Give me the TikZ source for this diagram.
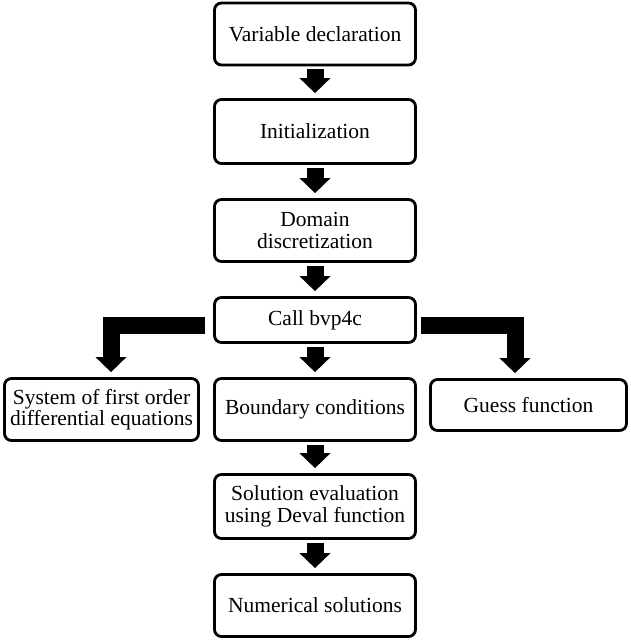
\documentclass[tikz,border=0pt]{standalone}
\usepackage{fontspec}
\setmainfont{Liberation Serif}
\usetikzlibrary{arrows.meta}
\tikzset{
  box/.style={draw=black, line width=2.8pt, rounded corners=7pt, align=center,
    font=\fontsize{21.5pt}{21.5pt}\selectfont, inner sep=2pt,
    minimum width=201pt, minimum height=62pt},
  fat/.style={line width=17pt, line join=miter,
    -{Triangle[width=31pt,length=15pt,line width=0pt]},
    shorten <=3pt, shorten >=5pt}
}
\begin{document}
\begin{tikzpicture}[x=1pt,y=-1pt]
\useasboundingbox (0,0) rectangle (630,640);
\node[box] (v1) at (315,34) {Variable declaration};
\node[box, minimum height=64pt] (v2) at (315,131.5) {Initialization};
\node[box] (v3) at (315,230.5) {Domain\\discretization};
\node[box, minimum height=45pt] (call) at (315,320) {Call bvp4c};
\node[box, minimum width=194pt] (sys) at (101.5,409.5) {System of first order\\differential equations};
\node[box] (bc) at (315,409.5) {Boundary conditions};
\node[box, minimum width=196pt, minimum height=51pt] (guess) at (528.5,405) {Guess function};
\node[box, minimum height=64pt] (sol) at (315,506.5) {Solution evaluation\\using Deval function};
\node[box] (num) at (315,605.5) {Numerical solutions};

\draw[fat] (v1) -- (v2);
\draw[fat] (v2) -- (v3);
\draw[fat] (v3) -- (call);
\draw[fat] (call) -- (bc);
\draw[fat] (bc) -- (sol);
\draw[fat] (sol) -- (num);
\draw[fat, shorten <=8pt] ([yshift=-5pt]call.west) -| ([xshift=9.5pt]sys.north);
\draw[fat, shorten <=4pt] ([yshift=-5pt]call.east) -| ([xshift=-13.5pt]guess.north);
\end{tikzpicture}
\end{document}
